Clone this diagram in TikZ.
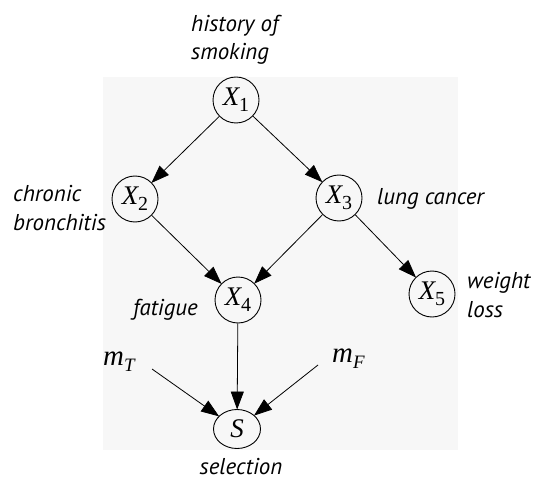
\documentclass[tikz,border=0pt]{standalone}
\usepackage{fontspec}
\setmainfont{Liberation Serif}
\setsansfont{PT Sans}
\usetikzlibrary{arrows.meta,shapes.geometric}
\definecolor{panel}{HTML}{F7F7F7}
% variable name with a lowered subscript, set in the serif italic
\newcommand\varsub[2]{\textit{#1}\kern-1bp\raisebox{-6bp}{\fontsize{20}{20}\selectfont #2}}
\begin{document}
\begin{tikzpicture}[x=1bp,y=-1bp,
  var/.style={draw=black,line width=0.9bp,circle,minimum size=46bp,inner sep=0pt,
    font=\fontsize{27}{30}\selectfont},
  selnode/.style={draw=black,line width=0.9bp,ellipse,minimum width=47bp,minimum height=39bp,inner sep=0pt,
    font=\fontsize{27}{30}\selectfont},
  lbl/.style={font=\sffamily\itshape\fontsize{23}{29}\selectfont,inner sep=0pt,align=left},
  mlbl/.style={font=\fontsize{29}{30}\selectfont,inner sep=0pt},
  edge/.style={line width=0.8bp,-{Triangle[length=18bp,width=13bp]},shorten >=-0.5bp}]
\useasboundingbox (0,0) rectangle (535,479);
\fill[panel] (103,77) rectangle (458,450);

% variables
\node[var] (x1) at (236,100) {\varsub{X}{1}};
\node[var] (x2) at (135,199) {\varsub{X}{2}};
\node[var] (x3) at (339,198) {\varsub{X}{3}};
\node[var] (x4) at (238,300) {\varsub{X}{4}};
\node[var] (x5) at (432,294) {\varsub{X}{5}};
\node[selnode] (s) at (237,429) {\textit{S}};

% labels
\node[lbl,anchor=base west] (hs) at (191,60) {history of\\smoking};
\node[lbl,anchor=base west] (cb) at (13,230) {chronic\\bronchitis};
\node[lbl,anchor=base west] (lc) at (377,205) {lung cancer};
\node[lbl,anchor=base west] (wl) at (467,317) {weight\\loss};
\node[lbl,anchor=base west] (fa) at (133,315) {fatigue};
\node[lbl,anchor=base] (se) at (241,474) {selection};
\node[mlbl,anchor=base west] (mt) at (103,365) {\textit{m}\raisebox{-6bp}{\fontsize{19}{19}\selectfont\itshape T}};
\node[mlbl,anchor=base west] (mf) at (332,362) {\textit{m}\raisebox{-6bp}{\fontsize{19}{19}\selectfont\itshape F}};

% free ends of the prior arrows
\coordinate (mtend) at (152,369);
\coordinate (mfend) at (318,365);

% edges
\draw[edge] (x1) -- (x2);
\draw[edge] (x1) -- (x3);
\draw[edge] (x2) -- (x4);
\draw[edge] (x3) -- (x4);
\draw[edge] (x3) -- (x5);
\draw[edge] (x4) -- (s);
\draw[edge] (mtend) -- (s);
\draw[edge] (mfend) -- (s);
\end{tikzpicture}
\end{document}
